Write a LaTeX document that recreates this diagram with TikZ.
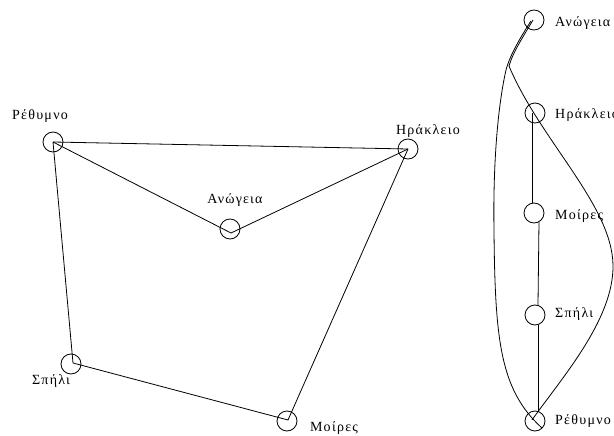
\documentclass[tikz,border=0pt]{standalone}
\usepackage{fontspec}
\setmainfont{Liberation Serif}[LetterSpace=9]
\usetikzlibrary{calc}
\begin{document}
\begin{tikzpicture}[x=1pt,y=-1pt,
  vert/.style={circle,draw,minimum size=20pt,inner sep=0pt,line width=0.8pt},
  lbl/.style={inner sep=0pt,font=\fontsize{14}{16}\selectfont},
  edge/.style={line width=0.8pt}]
\useasboundingbox (0,0) rectangle (614,436);
% left graph
\node[vert] (lr) at (53,142) {};
\node[vert] (lh) at (408,149) {};
\node[vert] (la) at (230,229) {};
\node[vert] (ls) at (71,364) {};
\node[vert] (lm) at (287,421) {};
\node[lbl] (lrt) at (40,116) {Ρέθυμνο};
\node[lbl] (lht) at (428,131) {Ηράκλειο};
\node[lbl] (lat) at (235,200) {Ανώγεια};
\node[lbl] (lst) at (51,381) {Σπήλι};
\node[lbl] (lmt) at (334,428) {Μοίρες};
\draw[edge] (lr.center) -- (lh.center);
\draw[edge] (lr.center) -- ($(la.center)+(1,4)$) -- (lh.center);
\draw[edge] (lr.center) -- ($(ls.center)+(2,-1)$) -- ($(lm.center)+(1,-1)$) -- (lh.center);
% right graph
\node[vert] (ra) at (534,20) {};
\node[vert] (rh) at (535,113) {};
\node[vert] (rm) at (534,213) {};
\node[vert] (rs) at (535,315) {};
\node[vert] (rr) at (535,421) {};
\node[lbl,anchor=west] (rat) at (555,23) {Ανώγεια};
\node[lbl,anchor=west] (rht) at (555,115) {Ηράκλειο};
\node[lbl,anchor=west] (rmt) at (555,216) {Μοίρες};
\node[lbl,anchor=west] (rst) at (555,314) {Σπήλι};
\node[lbl,anchor=west] (rrt) at (555,421) {Ρέθυμνο};
\draw[edge] ($(rh.center)+(-3,0)$) -- ($(rm.center)+(-2,-10)$);
\draw[edge] ($(rm.center)+(5,9)$) -- ($(rs.center)+(3,-10)$);
\draw[edge] ($(rs.center)+(3,10)$) -- ($(rr.center)+(3,-9)$);
\draw[edge] ($(ra.center)+(-3,1)$) .. controls (520,38) and (510,55) .. (506,70)
  .. controls (497,110) and (493,170) .. (494,230)
  .. controls (495,340) and (500,390) .. ($(rr.center)+(7,7)$);
\draw[edge] ($(ra.center)+(-1,0)$) .. controls (523,37) and (513,52) .. (509,66)
  .. controls (540,140) and (612,205) .. (613,265)
  .. controls (614,320) and (560,380) .. ($(rr.center)+(-3,-1)$);
\end{tikzpicture}
\end{document}
